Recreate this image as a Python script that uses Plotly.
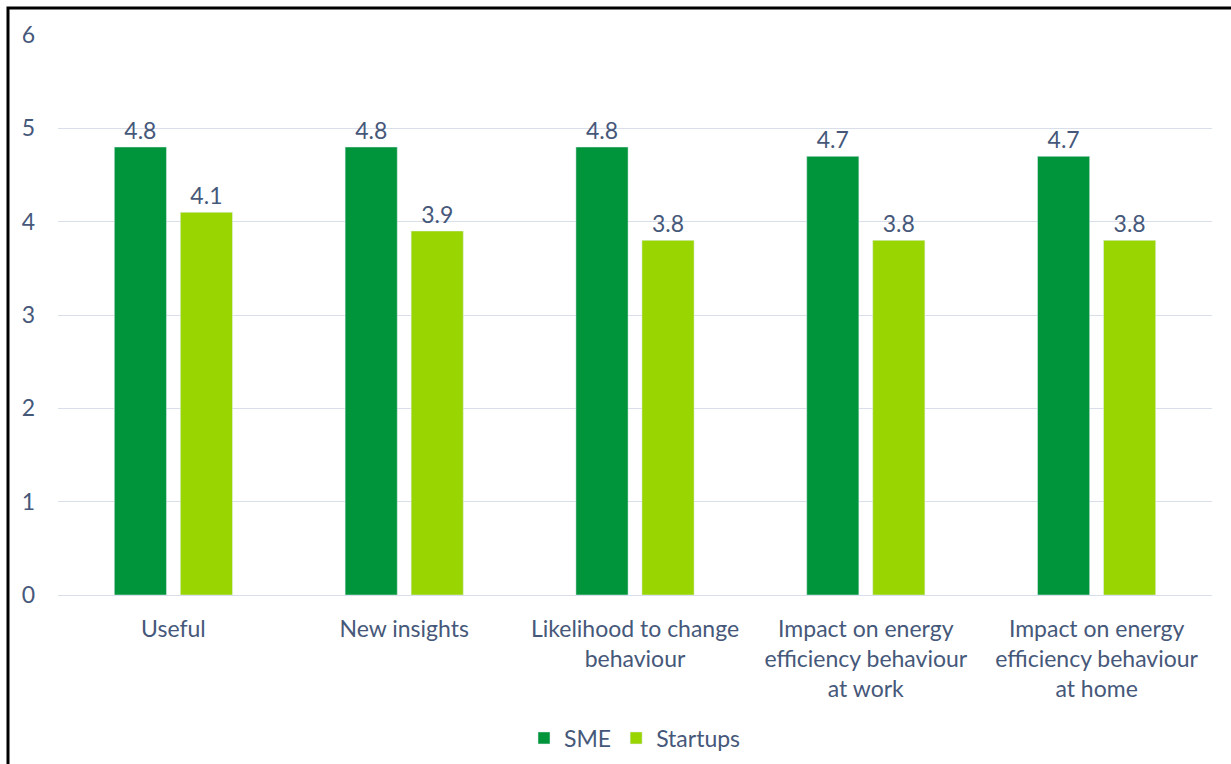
import plotly.graph_objects as go

categories = ["Useful", "New insights", "Likelihood to change<br>behaviour",
              "Impact on energy<br>efficiency behaviour<br>at work",
              "Impact on energy<br>efficiency behaviour<br>at home"]
sme = [4.8, 4.8, 4.8, 4.7, 4.7]
startups = [4.1, 3.9, 3.8, 3.8, 3.8]
y_ticks = [0, 1, 2, 3, 4, 5, 6]

TXT = "#46587A"
FONT = "Lato, 'Open Sans', sans-serif"
FS = 23

fig = go.Figure()
fig.add_trace(go.Bar(x=categories, y=sme, name="SME", marker_color="#00953A",
                     text=[f"{v:.1f}" for v in sme], textposition="outside",
                     textfont=dict(size=FS, color=TXT), cliponaxis=False))
fig.add_trace(go.Bar(x=categories, y=startups, name="Startups", marker_color="#99D500",
                     text=[f"{v:.1f}" for v in startups], textposition="outside",
                     textfont=dict(size=FS, color=TXT), cliponaxis=False))

W, H = 1231, 764
L, R, T, B = 58, 19, 35, 169
pw, ph = W - L - R, H - T - B

def px_x(x):
    return (x - L) / pw

def px_y(y):
    return (H - B - y) / ph

fig.update_layout(
    width=W, height=H,
    margin=dict(l=L, r=R, t=T, b=B, autoexpand=False),
    plot_bgcolor="white", paper_bgcolor="white",
    barmode="group", bargap=0.428, bargroupgap=0.21,
    font=dict(family=FONT, size=FS, color=TXT),
    uniformtext=dict(mode=False),
    legend=dict(orientation="h", x=0.5, xanchor="center", y=px_y(738), yanchor="middle",
                font=dict(size=FS, color=TXT), itemwidth=30, traceorder="normal"),
    xaxis=dict(showgrid=False, showline=False, ticks="", tickfont=dict(size=FS, color=TXT),
               ticklabelstandoff=18, automargin=False),
    yaxis=dict(range=[0, 6], tickvals=y_ticks, showgrid=True, gridcolor="#D9DFEA",
               gridwidth=1, zeroline=True, zerolinecolor="#D9DFEA", zerolinewidth=1,
               showline=False, ticks="", tickfont=dict(size=FS, color=TXT),
               ticklabelstandoff=22, automargin=False),
    shapes=[dict(type="rect", xref="paper", yref="paper",
                 x0=px_x(8), x1=px_x(W + 20), y0=px_y(H + 20), y1=px_y(8),
                 line=dict(color="black", width=3), fillcolor="rgba(0,0,0,0)", layer="above")],
)

fig.write_html("out.html")
